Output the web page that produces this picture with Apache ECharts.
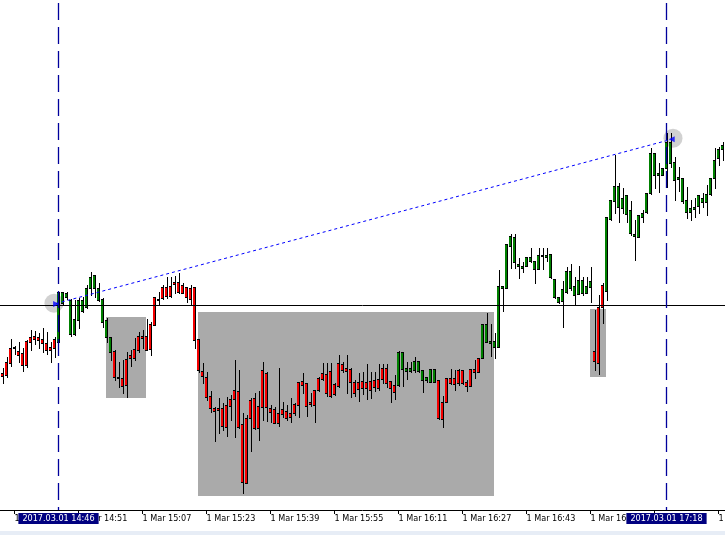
<!DOCTYPE html>
<html><head><meta charset="utf-8">
<script src="https://cdn.jsdelivr.net/npm/echarts@6/dist/echarts.min.js"></script>
<style>html,body{margin:0;padding:0;background:#fff}#c{width:725px;height:535px}</style>
</head><body><div id="c"></div>
<script>
// candle values (arbitrary price points; no price scale is shown in the reference)
const bodyTop=[137,148,162,163,159,157,169,173,174,173,
171,167,163,171,218,218,217,210,191,210,
210,222,233,235,222,211,190,173,159,133,
132,151,155,161,174,174,174,186,213,211,
223,223,224,228,228,225,223,222,223,171,
139,133,114,102,102,102,105,111,120,119,
86,92,110,112,104,140,137,102,101,97,
101,99,97,106,128,129,127,108,120,132,
137,136,139,126,147,146,142,141,128,128,
129,128,129,130,131,142,142,129,125,158,
158,142,142,149,149,140,133,141,141,130,
108,132,132,132,140,140,128,141,141,152,
186,186,169,169,224,224,266,274,273,246,
244,253,253,249,255,255,255,256,231,213,
221,239,239,224,230,230,224,229,159,203,
225,293,310,324,324,312,315,300,276,295,
297,317,357,357,337,342,368,368,348,333,
332,310,302,303,315,312,316,332,350,361,
365];
const bodyBottom=[134,135,147,162,155,145,145,168,171,170,
167,160,160,162,168,207,213,176,176,190,
199,203,222,222,210,188,173,158,133,132,
124,125,152,152,160,172,160,161,185,210,
212,214,214,226,218,217,213,211,170,140,
134,113,102,99,100,84,83,104,111,83,
28,27,92,82,82,103,103,98,87,87,
96,92,93,97,105,125,104,106,105,120,
131,117,114,116,124,140,139,128,117,121,
122,122,120,123,122,131,127,122,118,125,
141,139,139,140,139,130,130,128,128,92,
91,108,127,126,127,127,124,124,138,138,
152,168,167,163,163,222,222,264,248,244,
242,244,249,241,241,254,253,233,213,208,
209,218,222,215,216,217,217,223,149,147,
203,219,291,309,303,302,296,277,274,273,
293,298,317,335,335,335,342,347,330,331,
309,298,298,301,304,308,308,316,332,352,
361];
const high=[142,153,171,164,168,162,170,180,179,177,
182,178,168,173,218,218,218,211,210,212,
213,225,238,235,227,212,192,173,160,148,
150,158,160,172,178,180,191,188,213,218,
225,233,233,234,237,227,223,225,223,171,
147,138,119,103,112,107,113,115,150,140,
97,95,112,117,119,148,138,105,103,142,
108,105,112,107,128,137,127,117,120,133,
147,147,147,127,155,148,155,142,130,137,
138,146,138,138,146,146,146,129,135,159,
158,148,148,153,149,140,133,141,141,130,
114,132,141,140,141,140,130,141,150,152,
186,197,186,177,240,224,266,276,276,252,
248,253,262,249,262,262,262,256,231,213,
229,243,246,233,244,233,233,243,200,215,
227,293,310,355,327,322,315,309,290,295,
300,317,362,357,347,342,377,377,353,343,
332,323,310,312,315,317,325,332,362,363,
368];
const low=[127,133,144,156,148,139,143,160,166,162,
158,156,148,153,168,206,211,174,175,182,
198,202,215,213,209,183,168,150,130,123,
117,113,144,150,158,162,160,155,185,205,
211,212,213,217,217,217,208,205,162,138,
127,110,98,69,77,80,74,90,73,82,
17,27,59,81,70,90,89,88,87,84,
93,90,88,95,93,117,94,104,88,119,
130,114,113,115,123,138,117,113,114,109,
116,111,112,119,120,127,123,108,111,124,
124,131,138,138,138,118,128,128,128,91,
83,108,126,120,125,126,119,124,132,138,
152,168,154,152,163,199,222,242,242,232,
238,244,248,227,241,241,249,232,212,207,
183,217,220,205,216,215,217,208,140,136,
187,210,290,297,288,297,288,275,250,273,
288,297,316,322,318,335,323,343,310,319,
307,292,290,293,297,303,295,315,322,345,
350];
// candle colour runs: [count, colour]
const colorRuns=[[14,'R'],[14,'G'],[71,'R'],[10,'G'],[11,'R'],[28,'G'],[3,'R'],[30,'G']];
const tickIndex=[3,19,35,51,67,83,99,115,131,147,163,179];
const tickLabels=['1 Mar 14:35','1 Mar 14:51','1 Mar 15:07','1 Mar 15:23','1 Mar 15:39','1 Mar 15:55',
'1 Mar 16:11','1 Mar 16:27','1 Mar 16:43','1 Mar 16:59','1 Mar 17:15','1 Mar 17:31'];
const markerIndex=[14,166];
const markerLabels=['2017.03.01 14:46','2017.03.01 17:18'];
const levelValue=204.5;
const trendStart=[13.375,206.5], trendEnd=[166.625,370];
const anchorPoints=[[12.875,206.7],[167.625,371.7]];
const arrowLeft=[[13.4,206]], arrowRight=[[167.3,370.7]];
// rectangles: [fromIndex, topValue, toIndex, bottomValue]
const boxes=[[25.875,193,35.875,112],[48.875,198,122.875,14],[146.875,201,150.875,133]];

const RED='#f40000', GREEN='#008000';
const flags=[];
colorRuns.forEach(r=>{for(let k=0;k<r[0];k++)flags.push(r[1]==='G'?1:0);});
const candleData=bodyTop.map((t,i)=>[i,t,bodyBottom[i],high[i],low[i],flags[i]]);

const FONT='"DejaVu Sans Condensed", "DejaVu Sans", sans-serif';
const chart=echarts.init(document.getElementById('c'),null,{renderer:'canvas'});
chart.setOption({
  animation:false,
  backgroundColor:'#ffffff',
  grid:{left:0,right:0,top:0,bottom:25,outerBoundsMode:'none',containLabel:false},
  xAxis:{type:'value',min:-0.625,max:180.625,
    splitLine:{show:false},
    axisLine:{show:true,lineStyle:{color:'#000',width:1}},
    axisTick:{show:true,customValues:tickIndex,length:4,lineStyle:{color:'#000',width:1}},
    axisLabel:{show:true,customValues:tickIndex,align:'left',margin:4,color:'#000',
      fontFamily:FONT,fontSize:9,hideOverlap:false,
      formatter:function(v){const k=tickIndex.indexOf(Math.round(v));return k>=0?tickLabels[k]:'';}}
  },
  yAxis:{type:'value',min:0,max:510,show:false,splitLine:{show:false}},
  graphic:[{type:'rect',shape:{x:0,y:531,width:725,height:4},style:{fill:'#e7edf6'},silent:true}],
  series:[
    {type:'line',data:[],z:1,clip:false,
      markArea:{silent:true,itemStyle:{color:'#aaaaaa'},label:{show:false},
        data:boxes.map(b=>[{coord:[b[0],b[1]]},{coord:[b[2],b[3]]}])}},
    {type:'scatter',data:anchorPoints,symbol:'circle',symbolSize:19,z:2,silent:true,
      itemStyle:{color:'#c6c6c6'}},
    {type:'custom',z:3,data:candleData,encode:{x:0,y:[1,2,3,4]},silent:true,
      renderItem:function(params,api){
        const i=api.value(0);
        const pT=api.coord([i,api.value(1)]);
        const pB=api.coord([i,api.value(2)]);
        const pH=api.coord([i,api.value(3)]);
        const pL=api.coord([i,api.value(4)]);
        const col=api.value(5)===1?GREEN:RED;
        const x0=Math.round(pT[0]-1.5);
        const yT=Math.round(pT[1]);
        const yB=Math.max(Math.round(pB[1]),yT);
        const yH=Math.min(Math.round(pH[1]),yT);
        const yL=Math.max(Math.round(pL[1]),yB);
        return {type:'group',children:[
          {type:'rect',shape:{x:x0,y:yT,width:2,height:yB-yT+1},style:{fill:col}},
          {type:'rect',shape:{x:x0+2,y:yH,width:1,height:yL-yH+1},style:{fill:'#000'}},
          {type:'rect',shape:{x:x0,y:yT,width:3,height:1},style:{fill:'#000'}},
          {type:'rect',shape:{x:x0,y:yB,width:3,height:1},style:{fill:'#000'}}
        ]};
      }},
    {type:'line',data:[],z:4,clip:false,
      markLine:{silent:true,symbol:['none','none'],animation:false,label:{show:false},
        data:[
          [{coord:[-0.625,levelValue],lineStyle:{color:'#000',width:1,type:'solid'}},{coord:[180.625,levelValue]}],
          [{coord:trendStart,lineStyle:{color:'#0000ff',width:1,type:[3,3]}},{coord:trendEnd}],
        ].concat(markerIndex.map((m,k)=>[
          {coord:[m,0],
           lineStyle:{color:'#00009c',width:1.3,type:[17,7],dashOffset:14},
           label:{show:true,position:'start',distance:3,formatter:markerLabels[k],color:'#fff',
             backgroundColor:'#000080',padding:[1,4,1,4],fontSize:9,lineHeight:9,fontFamily:FONT}},
          {coord:[m,510]}]))
      }},
    {type:'scatter',data:arrowLeft,symbol:'triangle',symbolSize:[6,6],symbolRotate:-90,z:5,silent:true,
      itemStyle:{color:'#0000ff'}},
    {type:'scatter',data:arrowRight,symbol:'triangle',symbolSize:[6,6],symbolRotate:90,z:5,silent:true,
      itemStyle:{color:'#0000ff'}}
  ]
});
</script></body></html>
